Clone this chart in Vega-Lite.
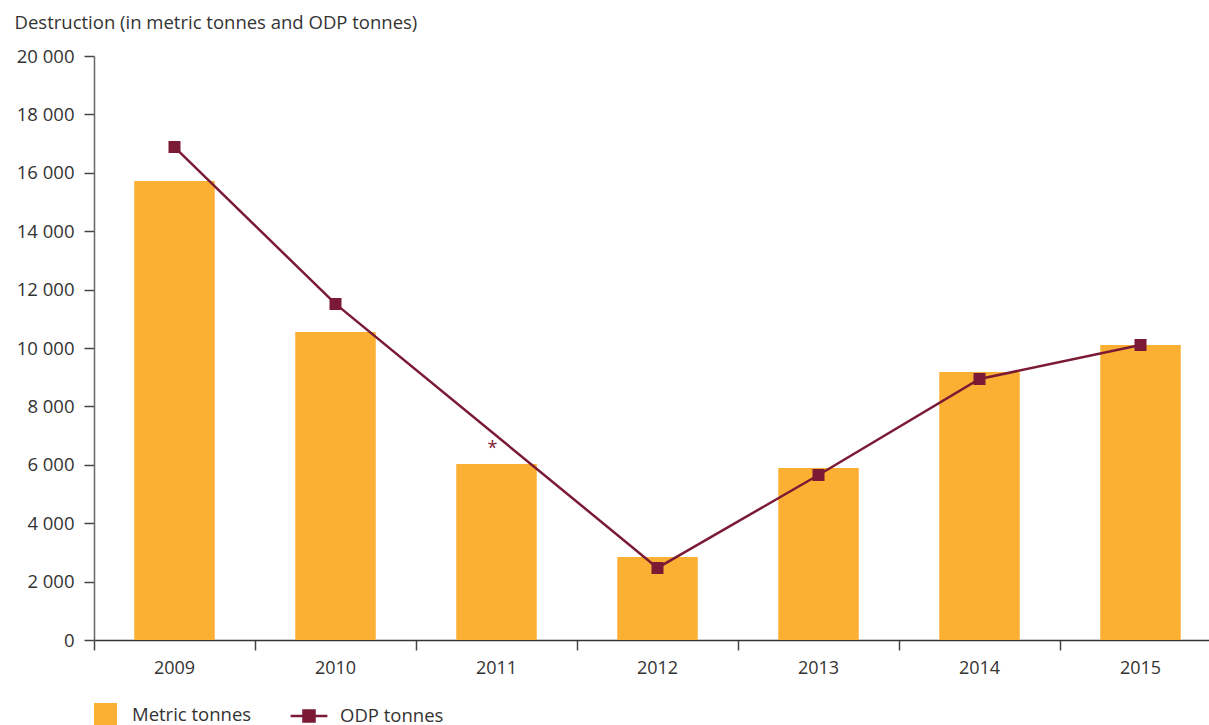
{
  "$schema": "https://vega.github.io/schema/vega-lite/v6.json",
  "autosize": "none",
  "width": 1115,
  "height": 584,
  "padding": {"left": 94, "top": 56, "right": 0, "bottom": 85},
  "config": {
    "view": {"stroke": null},
    "font": "Open Sans",
    "locale": {"number": {"decimal": ",", "thousands": " ", "grouping": [3], "currency": ["", ""]}},
    "axis": {"labelFont": "Open Sans", "labelFontSize": 18.5, "labelColor": "#333333", "titleFont": "Open Sans", "titleFontSize": 18.5, "titleColor": "#333333", "titleFontWeight": "normal", "domainColor": "#666666", "domainWidth": 1.5, "tickColor": "#444444", "tickWidth": 1.5, "tickSize": 10, "grid": false, "labelOverlap": false},
    "legend": {"labelFont": "Open Sans", "labelFontSize": 18.5, "labelColor": "#333333", "padding": 0, "labelLimit": 300}
  },
  "data": {"values": [
    {"year": "2009", "metric": 15720, "odp": 16880, "note": ""},
    {"year": "2010", "metric": 10550, "odp": 11510, "note": ""},
    {"year": "2011", "metric": 6030, "odp": null, "note": "*"},
    {"year": "2012", "metric": 2840, "odp": 2470, "note": ""},
    {"year": "2013", "metric": 5890, "odp": 5650, "note": ""},
    {"year": "2014", "metric": 9180, "odp": 8940, "note": ""},
    {"year": "2015", "metric": 10100, "odp": 10100, "note": ""}
  ]},
  "encoding": {
    "x": {"field": "year", "type": "ordinal", "title": null,
      "scale": {"range": [0, 1127], "paddingInner": 0.5, "paddingOuter": 0.25},
      "axis": {"labelAngle": 0, "bandPosition": -0.5, "labelPadding": 9, "labelFontSize": 18, "domainColor": "#333333"}}
  },
  "layer": [
    {
      "mark": {"type": "bar"},
      "encoding": {
        "y": {"field": "metric", "type": "quantitative",
          "scale": {"domain": [0, 20000], "nice": false},
          "axis": {"title": "Destruction (in metric tonnes and ODP tonnes)", "titleAngle": 0, "titleAlign": "left", "titleBaseline": "middle", "titleX": -80, "titleY": -34, "values": [0,2000,4000,6000,8000,10000,12000,14000,16000,18000,20000], "format": ",d", "labelPadding": 10}},
        "fill": {"datum": "Metric tonnes", "type": "nominal",
          "scale": {"domain": ["Metric tonnes"], "range": ["#FBB034"]},
          "legend": {"title": null, "orient": "none", "legendX": 0, "legendY": 647, "symbolType": "square", "symbolSize": 529, "labelOffset": 15, "symbolStrokeWidth": 0}}
      }
    },
    {
      "transform": [{"filter": "datum.odp != null"}],
      "mark": {"type": "line", "strokeWidth": 2.5, "point": {"shape": "square", "filled": true, "size": 100, "color": "#7B1A35"}},
      "encoding": {
        "y": {"field": "odp", "type": "quantitative"},
        "stroke": {"datum": "ODP tonnes", "type": "nominal",
          "scale": {"domain": ["ODP tonnes"], "range": ["#7B1A35"]},
          "legend": {"title": null, "orient": "none", "legendX": 202, "legendY": 647, "symbolType": "M-1.6,0H1.6M-0.48,-0.48H0.48V0.48H-0.48Z", "symbolSize": 529, "symbolStrokeWidth": 2.5, "labelOffset": 18,
            "encode": {"symbols": {"update": {"fill": {"value": "#7B1A35"}, "stroke": {"value": "#7B1A35"}}}}}}
      }
    },
    {
      "mark": {"type": "text", "fontSize": 18, "color": "#7B1A35", "baseline": "alphabetic", "dy": -10, "dx": -4},
      "encoding": {
        "y": {"field": "metric", "type": "quantitative"},
        "text": {"field": "note"}
      }
    }
  ],
  "resolve": {"scale": {"y": "shared"}}
}
